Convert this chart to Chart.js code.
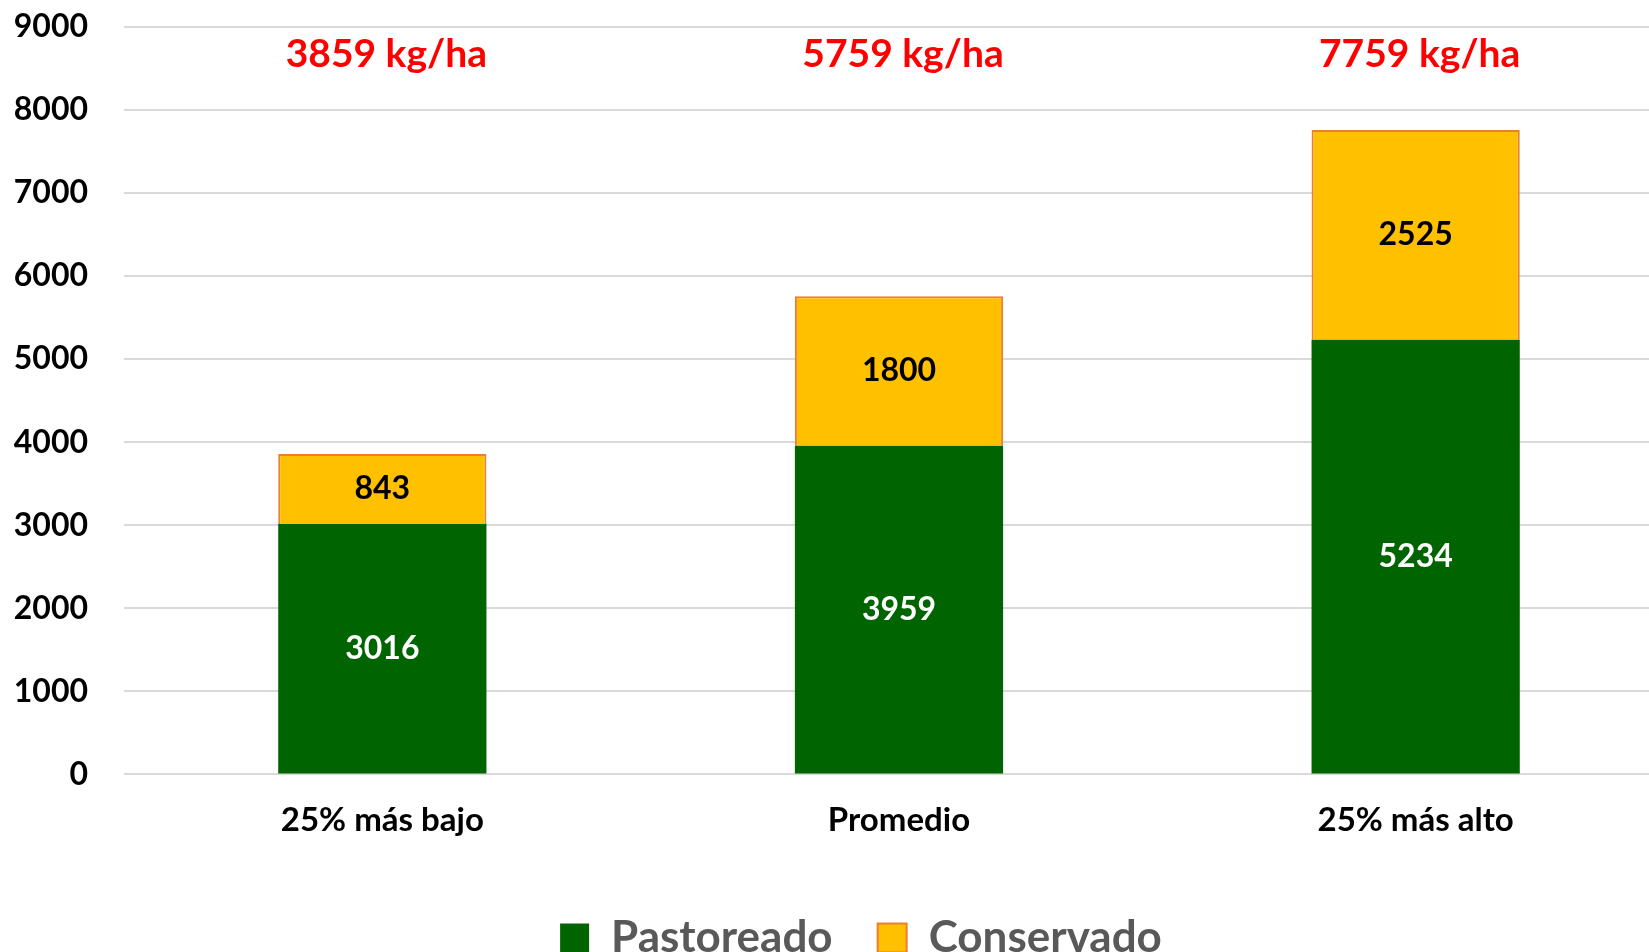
<!DOCTYPE html>
<html>
<head>
<meta charset="utf-8">
<script src="https://cdn.jsdelivr.net/npm/chart.js@4/dist/chart.umd.min.js"></script>
<style>
    html, body { margin: 0; padding: 0; background: #fff; overflow: hidden; }
    .chartBox { width: 1675px; height: 952px; }
</style>
</head>
<body>
<div class="chartBox"><canvas id="chart"></canvas></div>
<script>
const categories = ["25% más bajo", "Promedio", "25% más alto"];
const pastoreado = [3016, 3959, 5234];
const conservado = [843, 1800, 2525];
const totalUnit = "kg/ha";

const FONT = "Lato, 'Open Sans', sans-serif";

// numbers inside each bar segment
const segmentLabels = {
    id: "segmentLabels",
    afterDatasetsDraw(chart) {
        const ctx = chart.ctx;
        ctx.save();
        ctx.font = "bold 32px " + FONT;
        ctx.textAlign = "center";
        ctx.textBaseline = "middle";
        chart.data.datasets.forEach((ds, i) => {
            const meta = chart.getDatasetMeta(i);
            meta.data.forEach((bar, j) => {
                ctx.fillStyle = i === 0 ? "#ffffff" : "#000000";
                ctx.fillText(ds.data[j], bar.x, (bar.y + bar.base) / 2);
            });
        });
        ctx.restore();
    }
};

// red totals along the top of the chart
const totalLabels = {
    id: "totalLabels",
    afterDatasetsDraw(chart) {
        const ctx = chart.ctx;
        const xs = chart.scales.x;
        const ys = chart.scales.y;
        ctx.save();
        ctx.font = "bold 39px " + FONT;
        ctx.fillStyle = "#ff0000";
        ctx.textAlign = "center";
        ctx.textBaseline = "middle";
        categories.forEach((c, i) => {
            const total = pastoreado[i] + conservado[i];
            ctx.fillText(total + " " + totalUnit, xs.getPixelForValue(i) + 4, ys.getPixelForValue(8670));
        });
        ctx.restore();
    }
};

// nudge the legend so it sits where the original one is
const legendShift = {
    id: "legendShift",
    afterLayout(chart) {
        chart.legend.left += 34;
    }
};

new Chart(document.getElementById("chart"), {
    type: "bar",
    data: {
        labels: categories,
        datasets: [
            {
                label: "Pastoreado",
                data: pastoreado,
                backgroundColor: "#006400",
                borderWidth: 0
            },
            {
                label: "Conservado",
                data: conservado,
                backgroundColor: "#FFC000",
                borderColor: "#ED7D31",
                borderWidth: 2
            }
        ]
    },
    options: {
        responsive: true,
        maintainAspectRatio: false,
        animation: false,
        layout: {padding: {left: 14, right: 1, top: 27, bottom: -18}},
        datasets: {
            bar: {barPercentage: 0.403, categoryPercentage: 1}
        },
        scales: {
            x: {
                stacked: true,
                grid: {display: false},
                border: {display: false},
                ticks: {
                    color: "#000",
                    padding: 18,
                    font: {family: FONT, size: 33, weight: "bold"}
                },
                afterFit: scale => {
                    scale.paddingLeft = 0;
                    scale.paddingRight = 0;
                    scale.height += 13;
                }
            },
            y: {
                stacked: true,
                min: 0,
                max: 9000,
                ticks: {
                    stepSize: 1000,
                    color: "#000",
                    padding: 36,
                    callback: v => String(v),
                    font: {family: FONT, size: 32, weight: "bold"}
                },
                grid: {color: "#D9D9D9", lineWidth: 2, drawTicks: false},
                border: {display: false},
                afterFit: scale => {
                    scale.width = 110;
                    scale.paddingTop = 0;
                    scale.paddingBottom = 0;
                }
            }
        },
        plugins: {
            tooltip: {enabled: false},
            legend: {
                position: "bottom",
                labels: {
                    color: "#595959",
                    boxWidth: 29,
                    boxHeight: 29,
                    padding: 45,
                    font: {family: FONT, size: 44, weight: "bold"}
                }
            }
        }
    },
    plugins: [segmentLabels, totalLabels, legendShift]
});
</script>
</body>
</html>
